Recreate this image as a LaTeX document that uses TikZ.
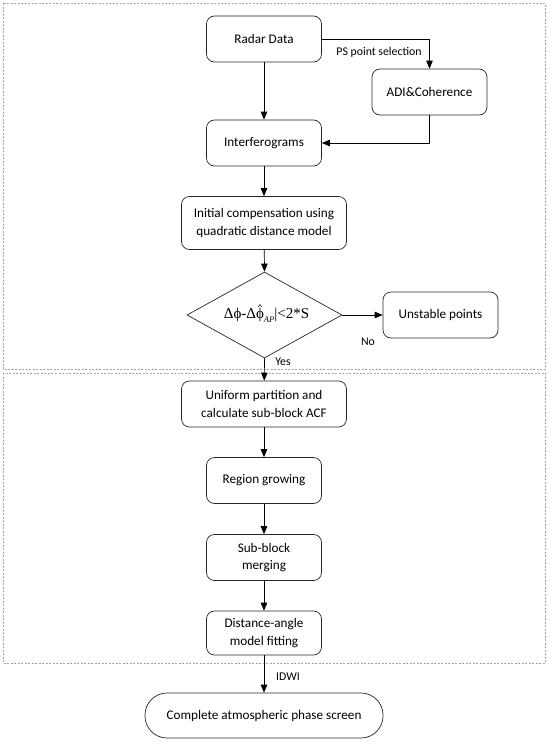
\documentclass[tikz,border=0pt]{standalone}
\usepackage{fontspec}
\setmainfont{Carlito}
\newfontfamily\serifface{Liberation Serif}
\usetikzlibrary{shapes.geometric,arrows.meta}
\tikzset{
  proc/.style={draw=black!85, line width=0.7pt, rounded corners=8pt, inner sep=0pt,
    minimum width=115pt, minimum height=46pt, align=center, font=\fontsize{13.2}{17.5}\selectfont},
  wideproc/.style={proc, minimum width=165pt, minimum height=53pt},
  stadium/.style={proc, minimum width=238pt, minimum height=45pt, rounded corners=22pt},
  decision/.style={draw=black!85, line width=0.7pt, diamond, inner sep=0pt, aspect=1.8,
    minimum width=155pt, minimum height=86pt, font=\serifface\fontsize{15}{17}\selectfont},
  flow/.style={line width=0.7pt, -{Triangle[length=8pt,width=6.5pt]}},
  lbl/.style={font=\fontsize{11.8}{13}\selectfont, inner sep=0pt},
  region/.style={draw=black!35, line width=0.8pt, dash pattern=on 2pt off 1.5pt}
}
\newcommand{\phihat}{\ooalign{ϕ\cr\hidewidth\tikz[baseline=0pt,x=1pt,y=1pt]{\draw[line width=0.5pt] (0,11.5)--(1.8,13.8)--(3.6,11.5);}\hidewidth\cr}}
\begin{document}
\begin{tikzpicture}[x=1pt,y=-1pt]
\useasboundingbox (0,0) rectangle (550,745);
\draw[region] (3,3) rectangle (545,369);
\draw[region] (3,373) rectangle (545,663);

\node[proc] (radar) at (264,39) {Radar Data};
\node[proc] (adi) at (429.5,92) {ADI\&Coherence};
\node[proc] (interf) at (264,143) {Interferograms};
\node[wideproc] (init) at (264,223) {Initial compensation using\\quadratic distance model};
\node[decision] (dec) at (264.5,315)
  {\hspace{4pt}Δϕ-Δ\phihat\raisebox{-0.55ex}{\fontsize{8.5}{9}\selectfont\itshape AP}|<2*S};
\node[proc] (unstable) at (440.5,315) {Unstable points};
\node[wideproc, minimum height=46pt] (uniform) at (264,404) {Uniform partition and\\calculate sub-block ACF};
\node[proc] (region) at (264,480.5) {Region growing};
\node[proc] (merge) at (264,557.5) {Sub-block\\merging};
\node[proc, minimum height=44pt] (fit) at (264,633) {Distance-angle\\model fitting};
\node[stadium] (aps) at (264,715.5) {Complete atmospheric phase screen};

\coordinate (c1) at (adi.north |- radar.east);
\coordinate (c2) at (adi.south |- interf.east);

\draw[flow] (radar) -- (interf);
\draw[flow] (radar.east) -- (c1) -- (adi.north);
\node[lbl] (pslbl) at (379,52) {PS point selection};
\draw[flow] (adi.south) -- (c2) -- (interf.east);
\draw[flow] (interf) -- (init);
\draw[flow] (init) -- (dec.north);
\draw[flow] (dec.east) -- (unstable.west);
\node[lbl] (nolbl) at (368,342) {No};
\draw[flow] (dec.south) -- (uniform);
\node[lbl] (yeslbl) at (283,362) {Yes};
\draw[flow] (uniform) -- (region);
\draw[flow] (region) -- (merge);
\draw[flow] (merge) -- (fit);
\draw[flow] (fit) -- (aps);
\node[lbl] (idwi) at (288,677) {IDWI};
\end{tikzpicture}
\end{document}
